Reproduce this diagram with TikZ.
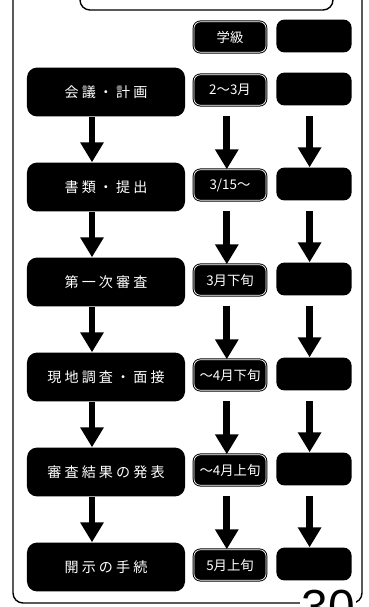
\documentclass[tikz,border=0pt]{standalone}
\usepackage{fontspec}
\newfontfamily\cjk{Noto Sans CJK JP}
\newfontfamily\pagefont{Liberation Sans}
\usepackage{tikz}
\usetikzlibrary{arrows.meta,positioning,calc}
\tikzset{
  stepbox/.style={fill=black, rounded corners=2.5mm, minimum width=3.95cm,
                  minimum height=1.22cm, inner sep=0pt, text=white,
                  font=\cjk\fontsize{10}{12}\selectfont},
  datebox/.style={fill=black, draw=black, double=white, double distance=0.5pt,
                  line width=0.7pt, rounded corners=1.6mm, minimum width=1.8cm,
                  minimum height=0.76cm, inner sep=0pt, text=white,
                  font=\cjk\fontsize{9.5}{11}\selectfont},
  notebox/.style={fill=black, rounded corners=2mm, minimum width=1.88cm,
                  minimum height=0.82cm, inner sep=0pt},
  downarrow/.style={-{Triangle[width=5.6mm,length=5mm]}, line width=1.7mm},
  frame/.style={draw=black, line width=1pt, rounded corners=2.5mm},
}

\begin{document}
\begin{tikzpicture}[x=0.025cm, y=-0.025cm]
  \useasboundingbox (0,0) rectangle (369,607);
  \clip (0,0) rectangle (369,607);
  % outer frame and title box
  \draw[frame] (13,-30) rectangle (362,603);
  \draw[frame, fill=white] (80,-30) rectangle (333,10);
  % column heads
  \node[datebox] (m0) at (230,37) {学級};
  \node[notebox] (r0) at (314,36) {};
  % steps
  \foreach \what/\when/\yy [count=\r] in
      {会 議 ・ 計 画/2〜3月/92, 書 類 ・ 提 出/{3/15〜}/187,
       第 一 次 審 査/3月下旬/282, 現 地 調 査 ・ 面 接/〜4月下旬/377,
       審 査 結 果 の 発 表/〜4月上旬/472, 開 示 の 手 続/5月上旬/567} {
    \node[stepbox] (l\r) at (106,\yy) {\what};
    \node[datebox] (m\r) at (230,\yy-2) {\when};
    \node[notebox] (r\r) at (314,\yy-3) {};
  }
  % arrows
  \foreach \r [count=\s from 2] in {1,...,5} {
    \draw[downarrow] ([xshift=-3.5mm]l\r.south) -- ([xshift=-3.5mm]l\s.north);
    \draw[downarrow, shorten <=2.6mm] ([xshift=-0.8mm]m\r.south) -- ([xshift=-0.8mm]m\s.north);
    \draw[downarrow, shorten <=2.6mm] ([xshift=-1.1mm]r\r.south) -- ([xshift=-1.1mm]r\s.north);
  }
  % page number, cut by the edge
  \node[fill=white, inner sep=1pt, anchor=north west,
        font=\pagefont\fontsize{34}{34}\selectfont] (pg) at (300,588) {30};
\end{tikzpicture}
\end{document}
